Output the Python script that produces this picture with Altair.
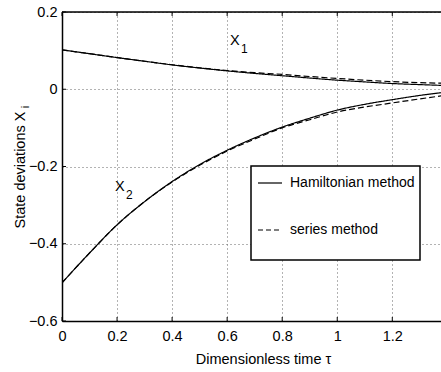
import altair as alt
import pandas as pd

# ---- data ----
tau = [0.0, 0.1, 0.2, 0.3, 0.4, 0.5, 0.6, 0.7, 0.8, 0.9, 1.0, 1.1, 1.2, 1.3, 1.4]
x1_hamiltonian = [0.102, 0.092, 0.082, 0.0725, 0.063, 0.055, 0.0475, 0.041, 0.035, 0.029,
                  0.0235, 0.019, 0.0148, 0.012, 0.0095]
x1_series = [0.102, 0.092, 0.082, 0.0725, 0.0635, 0.0555, 0.0485, 0.043, 0.0385, 0.033,
             0.028, 0.0235, 0.0197, 0.017, 0.0155]
x2_hamiltonian = [-0.501, -0.424, -0.351, -0.291, -0.239, -0.195, -0.158, -0.126, -0.098,
                  -0.075, -0.054, -0.039, -0.027, -0.016, -0.007]
x2_series = [-0.501, -0.424, -0.351, -0.291, -0.240, -0.197, -0.160, -0.129, -0.100,
             -0.079, -0.059, -0.046, -0.0355, -0.025, -0.015]
methods = ["Hamiltonian method", "series method"]
x_ticks = [0, 0.2, 0.4, 0.6, 0.8, 1.0, 1.2]
y_ticks = [-0.6, -0.4, -0.2, 0.0, 0.2]

FONT = "Liberation Sans"
FS = 14.5
W, H = 379, 309
XDOM = [0, 1.377]
YDOM = [-0.6, 0.2]

rows = []
for name, vals, m in [("X1", x1_hamiltonian, methods[0]), ("X1", x1_series, methods[1]),
                      ("X2", x2_hamiltonian, methods[0]), ("X2", x2_series, methods[1])]:
    for t, v in zip(tau, vals):
        rows.append({"tau": t, "value": v, "state": name, "method": m})
df = pd.DataFrame(rows)

xs = alt.Scale(domain=XDOM, nice=False, zero=False)
ys = alt.Scale(domain=YDOM, nice=False, zero=False)

one = pd.DataFrame({"a": [0]})

base_x = alt.X("tau:Q", scale=xs,
               axis=alt.Axis(values=x_ticks, format="~g", ticks=False, tickSize=0,
                             grid=True, gridDash=[1, 3], gridColor="#666", gridWidth=1,
                             domainColor="black", domainWidth=1.5,
                             labelFont=FONT, labelFontSize=FS, labelColor="black",
                             labelPadding=8, labelFlush=False,
                             title="Dimensionless time τ", titleFont=FONT,
                             titleFontSize=FS, titleFontWeight="normal", titleColor="black",
                             titleX=201, titleY=42, titleBaseline="alphabetic",
                             titleAlign="center"))
base_y = alt.Y("value:Q", scale=ys,
               axis=alt.Axis(values=y_ticks, format="~g", ticks=False, tickSize=0,
                             grid=True, gridDash=[1, 3], gridColor="#666", gridWidth=1,
                             domainColor="black", domainWidth=1.5,
                             labelFont=FONT, labelFontSize=FS, labelColor="black",
                             labelPadding=5, labelFlush=False, title=None))

curves = alt.Chart(df).mark_line(strokeWidth=1.2, color="black", clip=True,
                                 interpolate="monotone").encode(
    x=base_x, y=base_y,
    strokeDash=alt.StrokeDash("method:N",
                              scale=alt.Scale(domain=methods, range=[[1, 0], [6, 3]]),
                              legend=None),
    detail="state:N",
    order="tau:Q",
)

xt = pd.DataFrame({"t": x_ticks})
yt = pd.DataFrame({"v": y_ticks})

bottom_ticks = alt.Chart(xt).mark_rule(color="black", strokeWidth=1).encode(
    x=alt.X("t:Q", scale=xs), y=alt.value(H), y2=alt.value(H - 4))
top_ticks = alt.Chart(xt).mark_rule(color="black", strokeWidth=1).encode(
    x=alt.X("t:Q", scale=xs), y=alt.value(0), y2=alt.value(4))
left_ticks = alt.Chart(yt).mark_rule(color="black", strokeWidth=1).encode(
    y=alt.Y("v:Q", scale=ys), x=alt.value(0), x2=alt.value(4))
top_border = alt.Chart(one).mark_rule(color="black", strokeWidth=1.5).encode(
    x=alt.value(0), x2=alt.value(W), y=alt.value(0))


def txt(text, x, y, size=FS, angle=0, align="left", baseline="alphabetic"):
    return alt.Chart(one).mark_text(text=text, font=FONT, fontSize=size, color="black",
                                    angle=angle, align=align, baseline=baseline).encode(
        x=alt.value(x), y=alt.value(y))


# legend box
leg_box = alt.Chart(one).mark_rect(fill="white", stroke="black", strokeWidth=1.5).encode(
    x=alt.value(189), x2=alt.value(358), y=alt.value(154), y2=alt.value(248))
leg_solid = alt.Chart(one).mark_rule(color="black", strokeWidth=1.2).encode(
    x=alt.value(196), x2=alt.value(220), y=alt.value(171))
leg_dash = alt.Chart(one).mark_rule(color="black", strokeWidth=1.2, strokeDash=[5, 3]).encode(
    x=alt.value(196), x2=alt.value(220), y=alt.value(218))

layers = [
    curves, bottom_ticks, top_ticks, left_ticks, top_border,
    leg_box, leg_solid, leg_dash,
    txt(methods[0], 228, 175, size=14), txt(methods[1], 228, 222, size=14),
    txt("X", 168, 33), txt("1", 179, 41, size=12),
    txt("X", 53, 179), txt("2", 64, 187, size=12),
    txt("State deviations X", -37, 158, angle=270, align="center"),
    txt("i", -33, 95, size=11, angle=270, align="center"),
]

chart = alt.layer(*layers).properties(
    width=W, height=H,
    autosize=alt.AutoSizeParams(type="none"),
    padding={"left": 62, "top": 12, "right": 0, "bottom": 51},
).configure_view(stroke=None).configure(background="white")

chart.save("out.html", embed_options={"renderer": "svg", "actions": False})
